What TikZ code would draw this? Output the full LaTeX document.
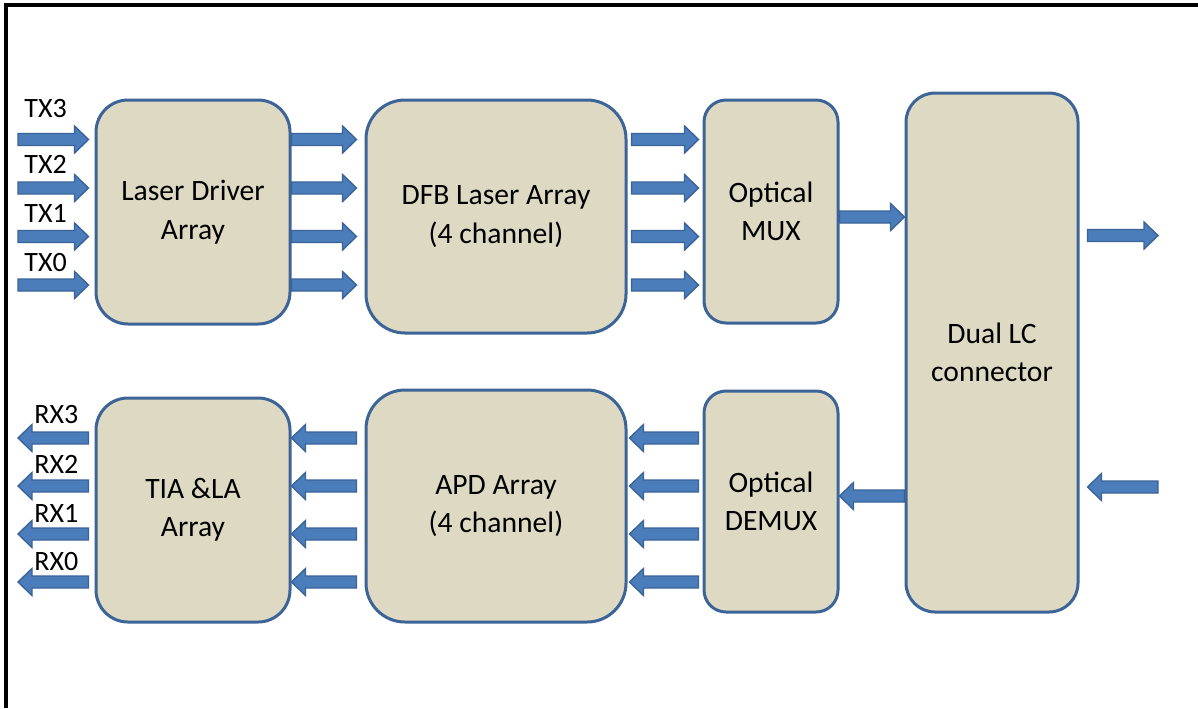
\documentclass[tikz,border=0pt]{standalone}
\usepackage{fontspec}
\setmainfont{Carlito}
\usetikzlibrary{calc}

\definecolor{boxfill}{HTML}{DDD9C3}
\definecolor{boxline}{HTML}{3C6496}
\definecolor{arrfill}{HTML}{4A7DBA}
\definecolor{arrline}{HTML}{3A6399}

\tikzset{
  block/.style={draw=boxline, fill=boxfill, line width=1.5pt, inner sep=0pt,
    align=center, font=\fontsize{14.8}{19.2}\selectfont},
  lbl/.style={anchor=base west, inner sep=0pt, font=\fontsize{14}{16}\selectfont},
  blockarrow/.style={draw=arrline, fill=arrfill, line width=0.7pt, line join=miter},
}

% block arrow from tail #1 to tip #2 (horizontal)
\newcommand{\barrow}[2]{%
  \filldraw[blockarrow] let \p1=(#1), \p2=(#2), \n1={\x2-7pt*sign(\x2-\x1)} in
    (\x1,{\y1+3pt}) -- ({\n1*1pt},{\y1+3pt}) -- ({\n1*1pt},{\y1+6.75pt})
    -- (\x2,\y1) -- ({\n1*1pt},{\y1-6.75pt}) -- ({\n1*1pt},{\y1-3pt})
    -- (\x1,{\y1-3pt}) -- cycle;}

\begin{document}
\begin{tikzpicture}[x=0.5pt, y=-0.5pt]
\useasboundingbox (0,0) rectangle (1198,708);

% outer frame (top and left sides)
\draw[line width=2pt] (6,708) -- (6,5) -- (1198,5);

% blocks
\node[block, minimum width=97pt, minimum height=112pt, rounded corners=16pt] (ld) at (193,212) {Laser Driver\\Array};
\node[block, minimum width=130pt, minimum height=116.5pt, rounded corners=19.5pt] (dfb) at (496,216.5) {DFB Laser Array\\(4 channel)};
\node[block, minimum width=67pt, minimum height=111.5pt, rounded corners=11pt] (mux) at (771,211.5) {Optical\\MUX};
\node[block, minimum width=86pt, minimum height=259.5pt, rounded corners=14.5pt] (lc) at (992,352.5) {Dual LC\\connector};
\node[block, minimum width=97pt, minimum height=112pt, rounded corners=16pt] (tia) at (193,510) {TIA \&LA\\Array};
\node[block, minimum width=130pt, minimum height=116pt, rounded corners=19.5pt] (apd) at (496,506) {APD Array\\(4 channel)};
\node[block, minimum width=67pt, minimum height=110.5pt, rounded corners=11pt] (demux) at (771,501.5) {Optical\\DEMUX};

% channel levels: free ends of the outer arrows
\coordinate (t3) at (18,139.5);
\coordinate (t2) at (18,188);
\coordinate (t1) at (18,236.5);
\coordinate (t0) at (18,285);
\coordinate (r3) at (18,438);
\coordinate (r2) at (18,486);
\coordinate (r1) at (18,534);
\coordinate (r0) at (18,582);
\coordinate (m) at (0,217);
\coordinate (d) at (0,496);
\coordinate (txout) at (1158,235.5);
\coordinate (rxin) at (1158,487);

% labels
\node[lbl] (tx3l) at (24,117) {TX3};
\node[lbl] (tx2l) at (24,173) {TX2};
\node[lbl] (tx1l) at (24,222) {TX1};
\node[lbl] (tx0l) at (24,271) {TX0};
\node[lbl] (rx3l) at (34,423) {RX3};
\node[lbl] (rx2l) at (34,473) {RX2};
\node[lbl] (rx1l) at (34,522) {RX1};
\node[lbl] (rx0l) at (34,570) {RX0};

% transmit path
\foreach \c in {t3,t2,t1,t0}{
  \barrow{\c}{$(ld.west|-\c)+(-3pt,0)$}
  \barrow{ld.east|-\c}{$(dfb.west|-\c)+(-4pt,0)$}
  \barrow{$(dfb.east|-\c)+(2pt,0)$}{$(mux.west|-\c)+(-2pt,0)$}
}
\barrow{mux.east|-m}{lc.west|-m}
\barrow{$(lc.east|-txout)+(4pt,0)$}{txout}

% receive path
\barrow{rxin}{$(lc.east|-rxin)+(4pt,0)$}
\barrow{lc.west|-d}{demux.east|-d}
\foreach \c in {r3,r2,r1,r0}{
  \barrow{$(demux.west|-\c)+(-2pt,0)$}{$(apd.east|-\c)+(1pt,0)$}
  \barrow{$(apd.west|-\c)+(-4pt,0)$}{tia.east|-\c}
  \barrow{$(tia.west|-\c)+(-3pt,0)$}{\c}
}
\end{tikzpicture}
\end{document}
